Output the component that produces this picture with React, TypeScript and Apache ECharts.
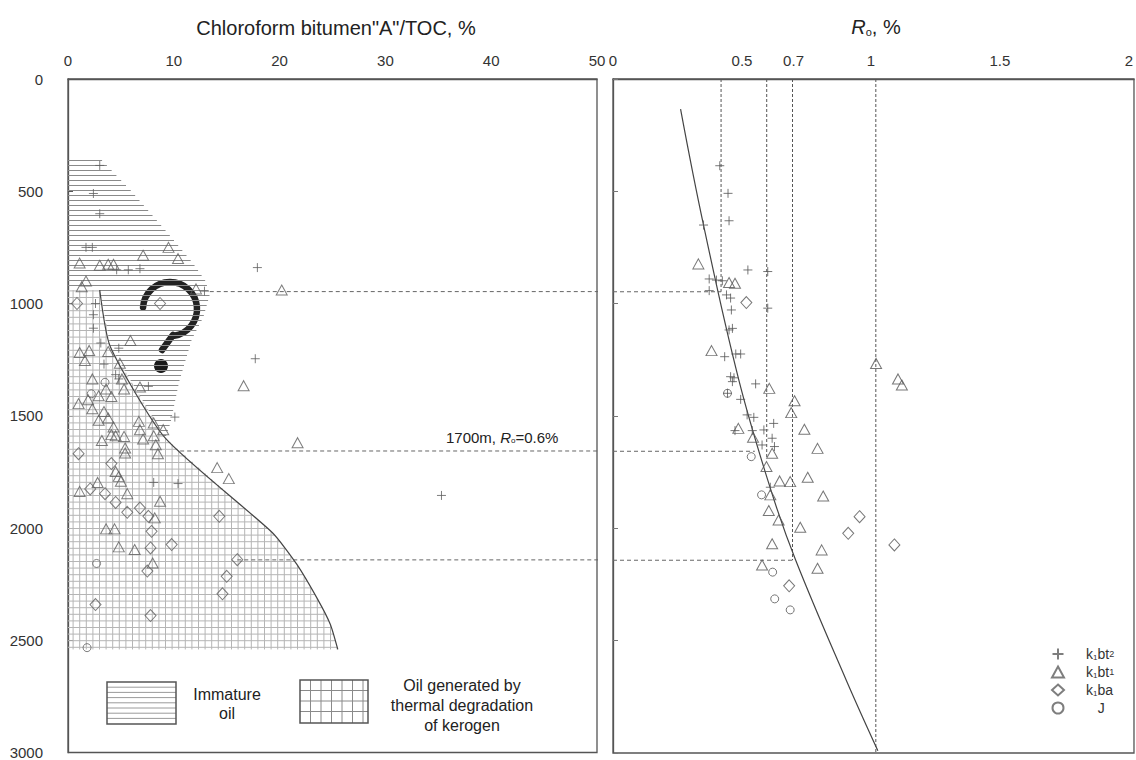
import React, { useEffect, useRef } from 'react';
import * as echarts from 'echarts';

const FONT = '"Liberation Sans", Arial, Helvetica, sans-serif';

// ---------- axes ----------
const abTickInterval = 10; // left top axis 0..50
const depthInterval = 500; // 0..3000 m
const roTickLabels = [0, 0.5, 0.7, 1, 1.5, 2];

// ---------- left panel: chloroform bitumen "A"/TOC (%), depth (m) ----------
const abPlus = [
  [3.0, 385], [2.4, 510], [3.0, 600], [1.7, 750], [2.3, 750], [4.6, 850], [5.7, 850], [6.8, 845],
  [17.9, 840], [12.9, 945], [2.6, 1000], [2.4, 1050], [2.4, 1110], [3.1, 1176], [4.8, 1199],
  [3.4, 1270], [4.5, 1317], [4.8, 1336], [7.6, 1369], [17.7, 1246], [10.1, 1506], [8.1, 1797],
  [10.4, 1802], [35.3, 1855],
];
const abTri = [
  [7.1, 785], [9.5, 750], [10.4, 800], [1.1, 820], [3.0, 830], [3.8, 825], [4.3, 825], [20.2, 940],
  [1.7, 900], [1.3, 925], [12.1, 935], [5.9, 1165], [1.1, 1218], [2.0, 1209], [1.6, 1254],
  [3.8, 1214], [4.9, 1266], [2.3, 1336], [5.1, 1336], [2.9, 1411], [3.6, 1381], [4.1, 1414],
  [5.3, 1381], [6.8, 1372], [1.9, 1429], [1.0, 1446], [2.3, 1469], [3.4, 1481], [3.8, 1510],
  [2.9, 1520], [6.7, 1525], [8.1, 1532], [9.0, 1562], [4.3, 1550], [6.8, 1562], [4.1, 1584],
  [4.5, 1589], [5.3, 1592], [3.2, 1610], [7.1, 1604], [8.1, 1589], [8.3, 1629], [8.5, 1669],
  [5.4, 1644], [5.4, 1666], [4.5, 1748], [4.8, 1770], [5.0, 1792], [1.1, 1837], [2.8, 1797],
  [5.6, 1847], [8.7, 1881], [8.2, 1955], [3.6, 2004], [4.4, 2004], [4.8, 2084], [6.3, 2096],
  [8.0, 2156], [16.6, 1366], [21.7, 1620], [14.1, 1731], [15.2, 1780],
];
const abDia = [
  [0.85, 1000], [8.7, 1000], [1.0, 1669], [4.1, 1713], [2.1, 1826], [3.5, 1847], [4.5, 1886],
  [5.6, 1930], [6.8, 1911], [7.6, 1948], [14.3, 1948], [7.9, 2015], [7.8, 2089], [9.8, 2074],
  [16.0, 2141], [7.5, 2192], [15.0, 2215], [14.6, 2293], [2.6, 2341], [7.8, 2390],
];
const abCir = [[3.5, 1351], [2.2, 1402], [2.7, 2158], [1.8, 2533]];

// zones of the left panel (bitumen %, depth m)
const immatureZone = [
  [0, 352], [3.0, 352], [6.0, 500], [9.5, 690], [11.8, 820], [13.0, 900], [13.4, 960],
  [12.8, 1060], [11.7, 1160], [10.5, 1350], [9.7, 1530], [9.2, 1600], [4.0, 1193], [3.0, 940], [0, 940],
];
const thermalZone = [
  [0, 940], [3.0, 940], [4.0, 1193], [9.2, 1600], [19.3, 2020], [21.6, 2160], [23.6, 2318],
  [24.8, 2430], [25.5, 2541], [0, 2541],
];
const zoneBoundary = [
  [3.0, 940], [4.0, 1193], [9.2, 1600], [19.3, 2020], [21.6, 2160], [23.6, 2318], [24.8, 2430], [25.5, 2541],
];

// ---------- right panel: Ro (%), depth (m) ----------
const roPlus = [
  [0.414, 386], [0.446, 509], [0.450, 631], [0.351, 650], [0.523, 850], [0.600, 857], [0.373, 890],
  [0.401, 895], [0.424, 898], [0.373, 942], [0.440, 961], [0.456, 975], [0.600, 1020], [0.459, 1028],
  [0.463, 1110], [0.450, 1117], [0.433, 1236], [0.476, 1224], [0.495, 1224], [0.456, 1325],
  [0.469, 1330], [0.463, 1347], [0.553, 1357], [0.444, 1399], [0.495, 1426], [0.520, 1495],
  [0.546, 1506], [0.623, 1533], [0.473, 1565], [0.540, 1565], [0.585, 1562], [0.617, 1599],
  [0.578, 1629], [0.626, 1636], [0.610, 1817],
];
const roTri = [
  [0.331, 823], [0.450, 906], [0.473, 909], [0.382, 1209], [1.020, 1266], [1.105, 1335],
  [1.120, 1362], [0.606, 1377], [0.704, 1432], [0.691, 1485], [0.742, 1559], [0.486, 1555],
  [0.543, 1595], [0.617, 1666], [0.793, 1644], [0.595, 1725], [0.755, 1773], [0.646, 1789],
  [0.687, 1792], [0.610, 1851], [0.815, 1856], [0.604, 1921], [0.642, 1963], [0.726, 1995],
  [0.617, 2069], [0.809, 2096], [0.578, 2163], [0.793, 2178],
];
const roDia = [[0.517, 995], [0.956, 1948], [0.912, 2022], [1.091, 2074], [0.683, 2256]];
const roCir = [[0.444, 1399], [0.536, 1681], [0.576, 1851], [0.619, 2195], [0.627, 2314], [0.687, 2363]];

const roTrend = [[0.262, 134], [0.351, 650], [0.488, 1340], [0.612, 1829], [0.708, 2141], [0.904, 2675], [1.027, 2990]];
// vertical reference lines: [Ro, end depth]
const roRefLines = [[0.419, 947], [0.596, 1690], [0.696, 2142], [1.019, 3000]];
// horizontal links: [depth, start on left axis %, end on Ro axis]
const depthLinks = [[947, 13.4, 0.419], [1657, 10.6, 0.55], [2142, 16.0, 0.70]];

const seriesNames = ['k1bt2', 'k1bt1', 'k1ba', 'J'];
const legendLabels: Record<string, string> = {
  k1bt2: '{b|k}{s|1}{b|bt}{u|2}',
  k1bt1: '{b|k}{s|1}{b|bt}{u|1}',
  k1ba: '{b|k}{s|1}{b|ba}',
  J: '{b|   J}',
};

const PLUS = 'path://M5,0L5,10M0,5L10,5';

function scanPolygon(pts: number[][], horizontal: boolean, step: number) {
  const segs: number[][] = [];
  const ci = horizontal ? 1 : 0;
  const oi = 1 - ci;
  let lo = Infinity;
  let hi = -Infinity;
  pts.forEach((p) => {
    lo = Math.min(lo, p[ci]);
    hi = Math.max(hi, p[ci]);
  });
  for (let s = Math.ceil(lo / step) * step + 0.5; s < hi; s += step) {
    const xs: number[] = [];
    for (let i = 0; i < pts.length; i++) {
      const a = pts[i];
      const b = pts[(i + 1) % pts.length];
      if ((a[ci] <= s && b[ci] > s) || (b[ci] <= s && a[ci] > s)) {
        const t = (s - a[ci]) / (b[ci] - a[ci]);
        xs.push(a[oi] + t * (b[oi] - a[oi]));
      }
    }
    xs.sort((m, n) => m - n);
    for (let k = 0; k + 1 < xs.length; k += 2) {
      segs.push(horizontal ? [xs[k], s, xs[k + 1], s] : [s, xs[k], s, xs[k + 1]]);
    }
  }
  return segs;
}

function hatchSeries(zone: number[][], withVertical: boolean, step: number, color: string) {
  return {
    type: 'custom',
    xAxisIndex: 0,
    yAxisIndex: 0,
    silent: true,
    z: 1,
    data: [[0, 0]],
    renderItem: (_p: any, api: any) => {
      const px = zone.map((p) => api.coord(p));
      let segs = scanPolygon(px, true, step);
      if (withVertical) segs = segs.concat(scanPolygon(px, false, step));
      return {
        type: 'group',
        children: segs.map((s) => ({
          type: 'line',
          shape: { x1: s[0], y1: s[1], x2: s[2], y2: s[3] },
          style: { stroke: color, lineWidth: 1 },
        })),
      };
    },
  };
}

function scatter(name: string, data: number[][], symbol: string, size: any, idx: number) {
  return {
    type: 'scatter',
    name,
    data,
    xAxisIndex: idx,
    yAxisIndex: idx,
    symbol,
    symbolSize: size,
    itemStyle: { color: 'rgba(0,0,0,0)', borderColor: idx === 0 ? '#5e5e5e' : '#555', borderWidth: 1 },
    z: 5,
  };
}

function legendBoxLines(x: number, y: number, w: number, h: number, step: number, vertical: boolean, color: string) {
  const out: any[] = [];
  for (let yy = y + step; yy < y + h - 1; yy += step) {
    out.push({ type: 'line', shape: { x1: x, y1: yy, x2: x + w, y2: yy }, style: { stroke: color, lineWidth: 1 } });
  }
  if (vertical) {
    for (let xx = x + step; xx < x + w - 1; xx += step) {
      out.push({ type: 'line', shape: { x1: xx, y1: y, x2: xx, y2: y + h }, style: { stroke: color, lineWidth: 1 } });
    }
  }
  return out;
}

export default function App() {
  const ref = useRef<HTMLDivElement>(null);

  useEffect(() => {
    document.body.style.margin = '0';
    const chart = echarts.init(ref.current!, undefined, { renderer: 'svg' });

    const axisText = { fontFamily: FONT, fontSize: 15, color: '#333' };
    const frameLine = { lineStyle: { color: '#555', width: 1.3 } };

    const series: any[] = [
      hatchSeries(immatureZone, false, 5, '#8a8a8a'),
      hatchSeries(thermalZone, true, 6.6, '#b5b5b5'),
      {
        type: 'line', xAxisIndex: 0, yAxisIndex: 0, data: zoneBoundary, symbol: 'none', smooth: 0.2,
        lineStyle: { color: '#444', width: 1.2 }, silent: true, z: 3,
      },
      scatter('k1bt2', abPlus, PLUS, 9, 0),
      scatter('k1bt1', abTri, 'triangle', [11, 10], 0),
      scatter('k1ba', abDia, 'diamond', [11, 12], 0),
      scatter('J', abCir, 'circle', 8, 0),
      scatter('k1bt2', roPlus, PLUS, 9, 1),
      scatter('k1bt1', roTri, 'triangle', [11, 10], 1),
      scatter('k1ba', roDia, 'diamond', [11, 12], 1),
      scatter('J', roCir, 'circle', 8, 1),
      {
        type: 'line', xAxisIndex: 1, yAxisIndex: 1, data: roTrend, symbol: 'none', smooth: 0.4,
        lineStyle: { color: '#444', width: 1.2 }, silent: true, z: 3,
      },
    ];

    depthLinks.forEach(([d, x0, r1]) => {
      series.push({
        type: 'line', xAxisIndex: 0, yAxisIndex: 0, clip: false, symbol: 'none', silent: true, z: 2,
        data: [[x0, d], [52, d]], lineStyle: { color: '#666', width: 1, type: [4, 3] },
      });
      series.push({
        type: 'line', xAxisIndex: 1, yAxisIndex: 1, symbol: 'none', silent: true, z: 2,
        data: [[0, d], [r1, d]], lineStyle: { color: '#666', width: 1, type: [4, 3] },
      });
    });
    roRefLines.forEach(([r, d]) => {
      series.push({
        type: 'line', xAxisIndex: 1, yAxisIndex: 1, symbol: 'none', silent: true, z: 2,
        data: [[r, 0], [r, d]], lineStyle: { color: '#555', width: 1, type: [3, 2] },
      });
    });

    const qColor = '#222';
    const option: any = {
      animation: false,
      backgroundColor: '#ffffff',
      grid: [
        { left: 68, top: 79, width: 529, height: 674, show: true, borderColor: '#555', borderWidth: 1.3 },
        { left: 613, top: 79, width: 525, height: 674, show: true, borderColor: '#555', borderWidth: 1.3 },
      ],
      xAxis: [
        {
          gridIndex: 0, type: 'value', position: 'top', min: 0, max: 50, interval: abTickInterval,
          axisLine: frameLine, axisTick: { show: false }, splitLine: { show: false },
          axisLabel: { ...axisText, margin: 11 },
        },
        {
          gridIndex: 1, type: 'value', position: 'top', min: 0, max: 2.02, interval: 0.1,
          axisLine: frameLine, axisTick: { show: false }, splitLine: { show: false },
          axisLabel: {
            ...axisText, margin: 11, showMaxLabel: false,
            formatter: (v: number) => {
              const t = roTickLabels.find((c) => Math.abs(c - v) < 1e-6);
              return t === undefined ? '' : String(t);
            },
          },
        },
      ],
      yAxis: [
        {
          gridIndex: 0, type: 'value', inverse: true, min: 0, max: 3000, interval: depthInterval,
          axisLine: frameLine, axisTick: { inside: true, length: 5, lineStyle: { color: '#555' } },
          splitLine: { show: false },
          axisLabel: { ...axisText, margin: 25, formatter: (v: number) => String(v) },
        },
        {
          gridIndex: 1, type: 'value', inverse: true, min: 0, max: 3000, interval: depthInterval,
          axisLine: frameLine, axisTick: { inside: true, length: 5, lineStyle: { color: '#777' } },
          splitLine: { show: false }, axisLabel: { show: false },
        },
      ],
      legend: {
        data: seriesNames, orient: 'vertical', left: 1046, top: 642, itemWidth: 12, itemHeight: 11,
        itemGap: 4, selectedMode: false,
        formatter: (n: string) => legendLabels[n],
        textStyle: {
          fontFamily: FONT, fontSize: 14, color: '#333', padding: [0, 0, 0, 17],
          rich: {
            b: { fontFamily: FONT, fontSize: 14, color: '#333' },
            s: { fontFamily: FONT, fontSize: 8, color: '#333', verticalAlign: 'bottom' },
            u: { fontFamily: FONT, fontSize: 9, color: '#333', verticalAlign: 'middle' },
          },
        },
      },
      series,
      graphic: [
        {
          type: 'text', silent: true,
          style: { x: 336, y: 28, text: 'Chloroform bitumen"A"/TOC, %', fontFamily: FONT, fontSize: 20, fill: '#222', align: 'center', verticalAlign: 'middle' },
        },
        {
          type: 'text', silent: true,
          style: {
            x: 876, y: 27, text: '{i|R}{s|o}{n|, %}', align: 'center', verticalAlign: 'middle',
            rich: {
              i: { fontFamily: FONT, fontSize: 20, fontStyle: 'italic', fill: '#222' },
              s: { fontFamily: FONT, fontSize: 11, fill: '#222', verticalAlign: 'bottom' },
              n: { fontFamily: FONT, fontSize: 20, fill: '#222' },
            },
          },
        },
        // big question mark drawn with strokes
        {
          type: 'group', silent: true, z: 10,
          children: [
            {
              type: 'arc',
              shape: { cx: 170, cy: 309, r: 27, startAngle: Math.PI * 1.02, endAngle: Math.PI * 2.45, clockwise: true },
              style: { stroke: qColor, lineWidth: 6.5, fill: 'none', lineCap: 'round' },
            },
            {
              type: 'line',
              shape: { x1: 173, y1: 335, x2: 162, y2: 350 },
              style: { stroke: qColor, lineWidth: 6.5, lineCap: 'round' },
            },
            { type: 'circle', shape: { cx: 161, cy: 366, r: 7 }, style: { fill: '#1a1a1a' } },
          ],
        },
        {
          type: 'text', silent: true,
          style: {
            x: 446, y: 437, text: '{n|1700m, }{i|R}{s|o}{n|=0.6%}', align: 'left', verticalAlign: 'middle',
            rich: {
              n: { fontFamily: FONT, fontSize: 15, fill: '#222' },
              i: { fontFamily: FONT, fontSize: 15, fontStyle: 'italic', fill: '#222' },
              s: { fontFamily: FONT, fontSize: 8, fill: '#222', verticalAlign: 'bottom' },
            },
          },
        },
        {
          type: 'group', silent: true,
          children: [
            ...legendBoxLines(107, 682, 69, 42, 5.2, false, '#9a9a9a'),
            { type: 'rect', shape: { x: 107, y: 682, width: 69, height: 42 }, style: { fill: 'none', stroke: '#555', lineWidth: 1.5 } },
            ...legendBoxLines(300, 680, 68, 43, 10.5, true, '#8a8a8a'),
            { type: 'rect', shape: { x: 300, y: 680, width: 68, height: 43 }, style: { fill: 'none', stroke: '#555', lineWidth: 1.5 } },
          ],
        },
        {
          type: 'text', silent: true,
          style: { x: 227, y: 704, text: 'Immature\noil', fontFamily: FONT, fontSize: 16, lineHeight: 19, fill: '#222', align: 'center', verticalAlign: 'middle' },
        },
        {
          type: 'text', silent: true,
          style: { x: 462, y: 705, text: 'Oil generated by\nthermal degradation\nof kerogen', fontFamily: FONT, fontSize: 16, lineHeight: 20, fill: '#222', align: 'center', verticalAlign: 'middle' },
        },
      ],
    };

    chart.setOption(option);
    return () => chart.dispose();
  }, []);

  return <div ref={ref} style={{ position: 'fixed', left: 0, top: 0, width: 1136, height: 760, background: '#fff' }} />;
}
